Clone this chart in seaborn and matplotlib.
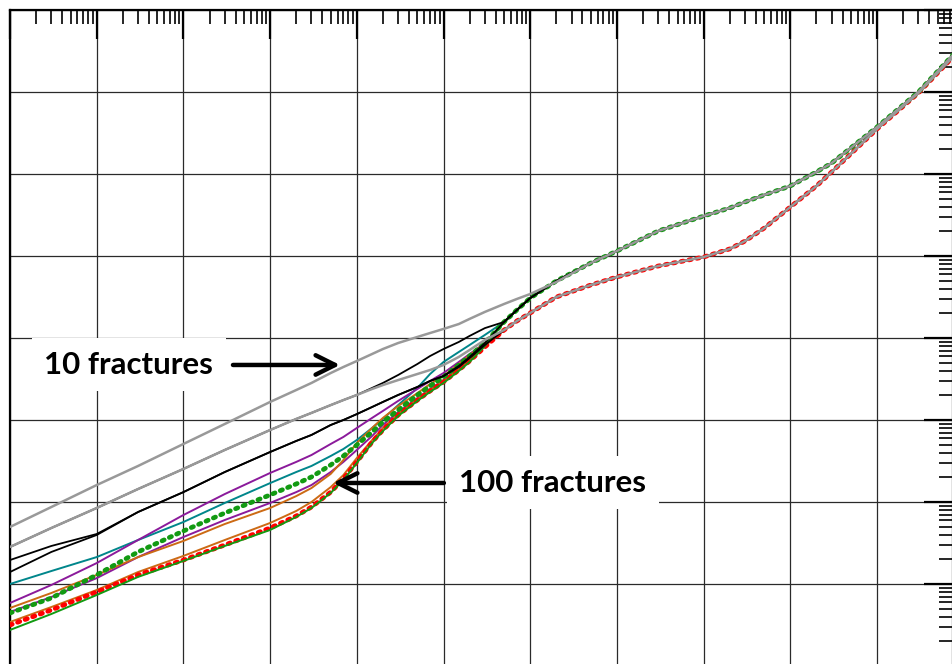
import matplotlib
matplotlib.use("Agg")
import matplotlib.pyplot as plt
import matplotlib.ticker as mticker
import seaborn as sns
import pandas as pd

# temps (echelle log)
t_early = [1e-4, 3e-4, 1e-3, 3e-3, 0.01, 0.03, 0.1, 0.2, 0.3, 0.5, 0.7, 1, 1.5, 2, 3, 5, 7, 10]
t_mid = [15, 20, 30]
t_tail = [50, 70, 100, 200, 500, 1e3, 3e3, 1e4, 2e4, 3e4, 5e4, 1e5, 2e5, 3e5, 1e6, 3e6, 7.5e6]

# fin de courbe commune : branche haute (verte) et branche basse (rouge)
upper_tail = [15.7, 21.9, 30.7, 49.6, 82.2, 115, 202, 307, 385, 456, 555, 714, 1060, 1360, 3740, 1.0e4, 2.83e4]
lower_tail = [12.5, 16.1, 20.2, 31.6, 44.3, 55.5, 75.5, 97.2, 122, 152, 219, 396, 714, 1060, 3540, 9720, 2.67e4]

# 10 fractures (debut + milieu)
gray_top = [0.0496, 0.0869, 0.161, 0.275, 0.510, 0.894, 1.66, 2.32, 2.83, 3.74, 4.43, 5.24,
            6.38, 7.34, 8.69, 10.3, 11.5, 12.9, 14.8, 17.1, 20.8]
gray_top_tail = [26.0, 29.9, 34.4, 48.2]  # rejoint la branche haute ensuite
gray_low = [0.0283, 0.0482, 0.0845, 0.144, 0.253, 0.431, 0.755, 1.03, 1.22, 1.52, 1.75, 2.02,
            2.39, 2.67, 3.07, 3.64, 4.07, 4.69, 5.87, 7.14, 9.46]
black_a = [0.0283, 0.0482, 0.0845, 0.144, 0.253, 0.431, 0.755, 1.03, 1.22, 1.52, 1.75, 2.02,
           2.46, 2.83, 3.54, 4.82, 6.03, 7.34, 8.94, 10.6, 13.2]
black_b = [0.0196, 0.0291, 0.0407, 0.0755, 0.132, 0.232, 0.407, 0.555, 0.657, 0.869, 1.0, 1.18,
           1.44, 1.66, 2.02, 2.53, 2.99, 3.44, 4.56, 5.87, 8.69]
black_c = [0.0140, 0.0246, 0.0396, 0.0755, 0.132, 0.232, 0.407, 0.555, 0.657, 0.869, 1.0, 1.18,
           1.44, 1.66, 2.02, 2.53, 2.99, 3.44, 4.43, 5.70, 8.22]

# 100 fractures (debut + milieu)
teal = [0.0100, 0.0144, 0.0213, 0.0344, 0.0570, 0.0973, 0.170, 0.232, 0.275, 0.364, 0.443, 0.570,
        0.799, 1.03, 1.52, 2.46, 3.64, 5.10, 6.75, 8.22, 10.9]
purple_a = [0.00587, 0.00973, 0.0180, 0.0344, 0.0694, 0.125, 0.226, 0.308, 0.374, 0.510, 0.621, 0.799,
            1.06, 1.29, 1.71, 2.39, 2.99, 3.74, 5.10, 6.38, 8.69]
purple_b = [0.00456, 0.00694, 0.0118, 0.0213, 0.0374, 0.0603, 0.0973, 0.132, 0.161, 0.232, 0.308, 0.431,
            0.638, 0.869, 1.25, 1.85, 2.39, 3.07, 4.31, 5.55, 8.22]
orange_a = [0.00510, 0.00777, 0.0129, 0.0213, 0.0335, 0.0539, 0.0845, 0.118, 0.148, 0.220, 0.325, 0.524,
            0.799, 1.06, 1.48, 2.13, 2.75, 3.44, 4.82, 6.20, 8.69]
orange_b = [0.00344, 0.00524, 0.00845, 0.0140, 0.0220, 0.0344, 0.0555, 0.0777, 0.100, 0.152, 0.213, 0.344,
            0.570, 0.799, 1.18, 1.80, 2.32, 2.99, 4.19, 5.39, 7.99]
green_line = [0.00275, 0.00431, 0.00734, 0.0122, 0.0191, 0.0291, 0.0456, 0.0657, 0.0845, 0.129, 0.185, 0.299,
              0.524, 0.734, 1.12, 1.71, 2.20, 2.83, 3.96, 5.10, 7.99]
green_pts = [0.00443, 0.00675, 0.0129, 0.0246, 0.0443, 0.0734, 0.122, 0.166, 0.202, 0.283, 0.364, 0.496,
             0.714, 0.946, 1.32, 2.02, 2.60, 3.34, 4.69, 6.03, 8.69]
red_pts = [0.00316, 0.00482, 0.00799, 0.0129, 0.0196, 0.0299, 0.0482, 0.0675, 0.0869, 0.132, 0.191, 0.308,
           0.539, 0.755, 1.15, 1.75, 2.26, 2.91, 4.07, 5.24, 7.77]

t_all = t_early + t_mid + t_tail


def courbe(debut, branche):
    if branche == "up":
        return pd.DataFrame({"t": t_all, "p": debut + upper_tail})
    return pd.DataFrame({"t": t_all, "p": debut + lower_tail})


df_gray_top = pd.DataFrame({"t": t_all, "p": gray_top + gray_top_tail + upper_tail[4:]})

dots = (0, (0.5, 1.2))
series = [
    # data, couleur, epaisseur, style, zorder
    (courbe(teal, "up"), "#00868B", 1.4, "-", 3),
    (courbe(purple_a, "up"), "#8B1A9B", 1.4, "-", 3),
    (courbe(purple_b, "low"), "#8B1A9B", 1.4, "-", 3),
    (courbe(orange_a, "up"), "#CC6A14", 1.4, "-", 3),
    (courbe(orange_b, "low"), "#CC6A14", 1.4, "-", 3),
    (courbe(red_pts, "low"), "#FF0000", 3.4, dots, 4),
    (courbe(green_line, "up"), "#129A12", 1.4, "-", 4),
    (courbe(green_pts, "up"), "#129A12", 3.4, dots, 4),
    (courbe(black_c, "low"), "black", 1.3, "-", 5),
    (courbe(black_b, "up"), "black", 1.3, "-", 5),
    (courbe(black_a, "up"), "black", 1.3, "-", 5),
    (df_gray_top, "#999999", 1.8, "-", 6),
    (courbe(gray_low, "low"), "#999999", 1.8, "-", 6),
]

sns.set_style("white")
plt.rcParams["font.family"] = ["Lato", "DejaVu Sans"]

fig = plt.figure(figsize=(9.53, 6.64), dpi=100)
ax = fig.add_axes([10 / 953, -2 / 664, 943 / 953, 656 / 664])

for d, col, lw, ls, z in series:
    sns.lineplot(data=d, x="t", y="p", ax=ax, color=col, lw=lw, linestyle=ls,
                 dash_capstyle="round", zorder=z, estimator=None, sort=False,
                 legend=False)

ax.set_xscale("log")
ax.set_yscale("log")
ax.set_xlim(1e-4, 7.52e6)
ax.set_ylim(1e-3, 1e5)
ax.set_xlabel("")
ax.set_ylabel("")

ax.grid(True, which="major", color="#2a2a2a", lw=0.9, zorder=1)
ax.set_axisbelow(True)
ax.tick_params(which="major", direction="in", length=21, width=1.6, color="black",
               top=True, right=True, labelbottom=False, labelleft=False)
ax.tick_params(which="minor", direction="in", length=10, width=1.2, color="black",
               top=True, right=True)
for axis in [ax.xaxis, ax.yaxis]:
    axis.set_major_locator(mticker.LogLocator(base=10, numticks=20))
    axis.set_minor_locator(mticker.LogLocator(base=10, subs=range(2, 10), numticks=20))
    axis.set_minor_formatter(mticker.NullFormatter())
for s in ax.spines.values():
    s.set_linewidth(1.6)
    s.set_color("black")

# etiquettes avec fond blanc et fleches
fleche = dict(arrowstyle="->,head_length=0.7,head_width=0.35", lw=3.2,
              color="black", mutation_scale=20, shrinkA=0, shrinkB=0)

ax.text(0.00235, 4.69, "10 fractures", fontsize=22.5, fontweight="bold",
        color="black", ha="center", va="center", zorder=8,
        bbox=dict(boxstyle="square,pad=0.4", fc="white", ec="none"))
ax.annotate("", xy=(0.64, 4.69), xytext=(0.0373, 4.69), zorder=9, arrowprops=fleche)

ax.text(183, 0.1706, "100 fractures", fontsize=22.5, fontweight="bold",
        color="black", ha="center", va="center", zorder=8,
        bbox=dict(boxstyle="square,pad=0.4", fc="white", ec="none"))
ax.annotate("", xy=(0.531, 0.1706), xytext=(10.1, 0.1706), zorder=9, arrowprops=fleche)

fig.savefig("out.png", dpi=100)
